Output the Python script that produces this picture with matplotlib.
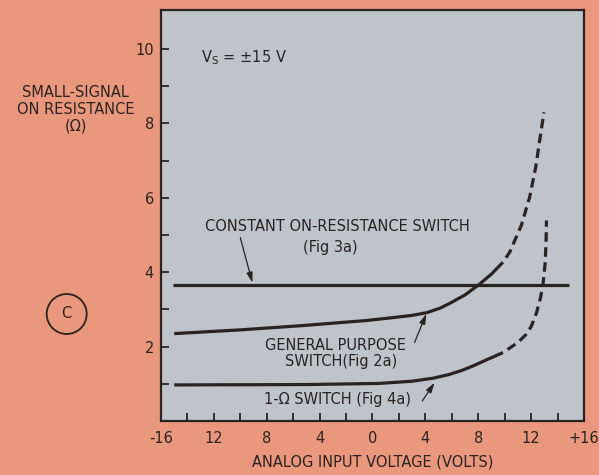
import matplotlib
matplotlib.use("Agg")
import matplotlib.pyplot as plt
from matplotlib.patches import Ellipse

# Analog input voltage (V) vs. small-signal on resistance (ohms), Vs = +/-15 V
const_v = [-15.1, 14.9]
const_r = [3.65, 3.65]

gp_solid_v = [-15.0, -10.0, -5.5, -0.5, 1.3, 3.0, 4.07, 5.08, 5.83, 7.0, 8.1, 9.0, 9.87]
gp_solid_r = [2.35, 2.45, 2.56, 2.70, 2.77, 2.84, 2.91, 3.03, 3.16, 3.39, 3.68, 3.95, 4.27]
gp_dash_v = [9.87, 10.38, 11.26, 11.89, 12.35, 12.65, 12.97]
gp_dash_r = [4.27, 4.54, 5.26, 6.02, 6.83, 7.55, 8.30]

one_solid_v = [-15.0, -5.0, 0.5, 3.0, 4.57, 5.8, 6.84, 7.6, 8.6, 9.87]
one_solid_r = [0.97, 0.98, 1.01, 1.07, 1.15, 1.25, 1.37, 1.48, 1.64, 1.84]
one_dash_v = [9.87, 11.0, 11.6, 12.02, 12.4, 12.7, 12.9, 13.05, 13.13, 13.16]
one_dash_r = [1.84, 2.11, 2.32, 2.55, 2.90, 3.30, 3.68, 4.20, 4.80, 5.39]

x_major = [-16, -12, -8, -4, 0, 4, 8, 12, 16]
x_labels = ["-16", "12", "8", "4", "0", "4", "8", "12", "+16"]
x_minor = [-14, -10, -6, -2, 2, 6, 10, 14]
y_major = [2, 4, 6, 8, 10]
y_minor = [1, 3, 5, 7, 9]

BG = "#E9977D"
PANEL = "#BEC4C9"
INK = "#2B2321"

plt.rcParams["font.family"] = ["DejaVu Sans"]

fig = plt.figure(figsize=(5.99, 4.75), dpi=100, facecolor=BG)
ax = fig.add_axes([161 / 599, 1 - 421 / 475, (584 - 161) / 599, (421 - 10) / 475])
ax.set_facecolor(PANEL)
ax.set_xlim(-16, 16)
ax.set_ylim(0, 11.05)

for s in ax.spines.values():
    s.set_color(INK)
    s.set_linewidth(1.6)

ax.set_xticks(x_major)
ax.set_xticklabels(x_labels)
ax.set_xticks(x_minor, minor=True)
ax.set_yticks(y_major)
ax.set_yticks(y_minor, minor=True)
ax.tick_params(axis="both", which="both", direction="in", length=6, width=1.3,
               color=INK, labelcolor=INK, labelsize=10.5)
ax.tick_params(axis="x", which="both", pad=7)
ax.tick_params(axis="y", which="both", pad=5)
ax.tick_params(top=False, right=False)

lw = 2.3
dash_style = (3.0, (3.0, 1.7))  # begins with a gap after the solid part
ax.plot(const_v, const_r, color=INK, lw=lw, solid_capstyle="butt")
ax.plot(gp_solid_v, gp_solid_r, color=INK, lw=lw, solid_capstyle="butt",
        solid_joinstyle="round")
ax.plot(gp_dash_v, gp_dash_r, color=INK, lw=lw, linestyle=dash_style,
        dash_capstyle="butt")
ax.plot(one_solid_v, one_solid_r, color=INK, lw=lw, solid_capstyle="butt",
        solid_joinstyle="round")
ax.plot(one_dash_v, one_dash_r, color=INK, lw=lw, linestyle=dash_style,
        dash_capstyle="butt")

txt = dict(color=INK, fontsize=10.5, ha="center", va="center")
ax.text(-9.7, 9.76, r"V$_\mathregular{S}$ = ±15 V", **txt)
ax.text(-2.69, 5.23, "CONSTANT ON-RESISTANCE SWITCH", **txt)
ax.text(-3.2, 4.66, "(Fig 3a)", **txt)
ax.text(-2.8, 2.03, "GENERAL PURPOSE", **txt)
ax.text(-2.35, 1.61, "SWITCH(Fig 2a)", **txt)
ax.text(-2.65, 0.59, "1-Ω SWITCH (Fig 4a)", **txt)

arrow = dict(arrowstyle="-|>,head_length=0.6,head_width=0.18", color=INK,
             lw=0.9, shrinkA=0, shrinkB=0)
ax.annotate("", xy=(-9.09, 3.72), xytext=(-10.0, 4.93), arrowprops=arrow)
ax.annotate("", xy=(4.07, 2.88), xytext=(3.18, 2.11), arrowprops=arrow)
ax.annotate("", xy=(4.7, 1.03), xytext=(3.77, 0.54), arrowprops=arrow)

ax.set_xlabel("ANALOG INPUT VOLTAGE (VOLTS)", color=INK, fontsize=10.5,
              labelpad=6)

fig.text(75.5 / 599, 1 - 109.5 / 475, "SMALL-SIGNAL\nON RESISTANCE\n(Ω)",
         color=INK, fontsize=10.5, ha="center", va="center", linespacing=1.15)

fig.patches.append(Ellipse((66.7 / 599, 1 - 314 / 475), 40 / 599, 40 / 475,
                           transform=fig.transFigure, fill=False,
                           edgecolor=INK, lw=1.3))
fig.text(66.7 / 599, 1 - 314 / 475, "C", color=INK, fontsize=10.5,
         ha="center", va="center")

fig.savefig("out.png", dpi=100, facecolor=BG)
